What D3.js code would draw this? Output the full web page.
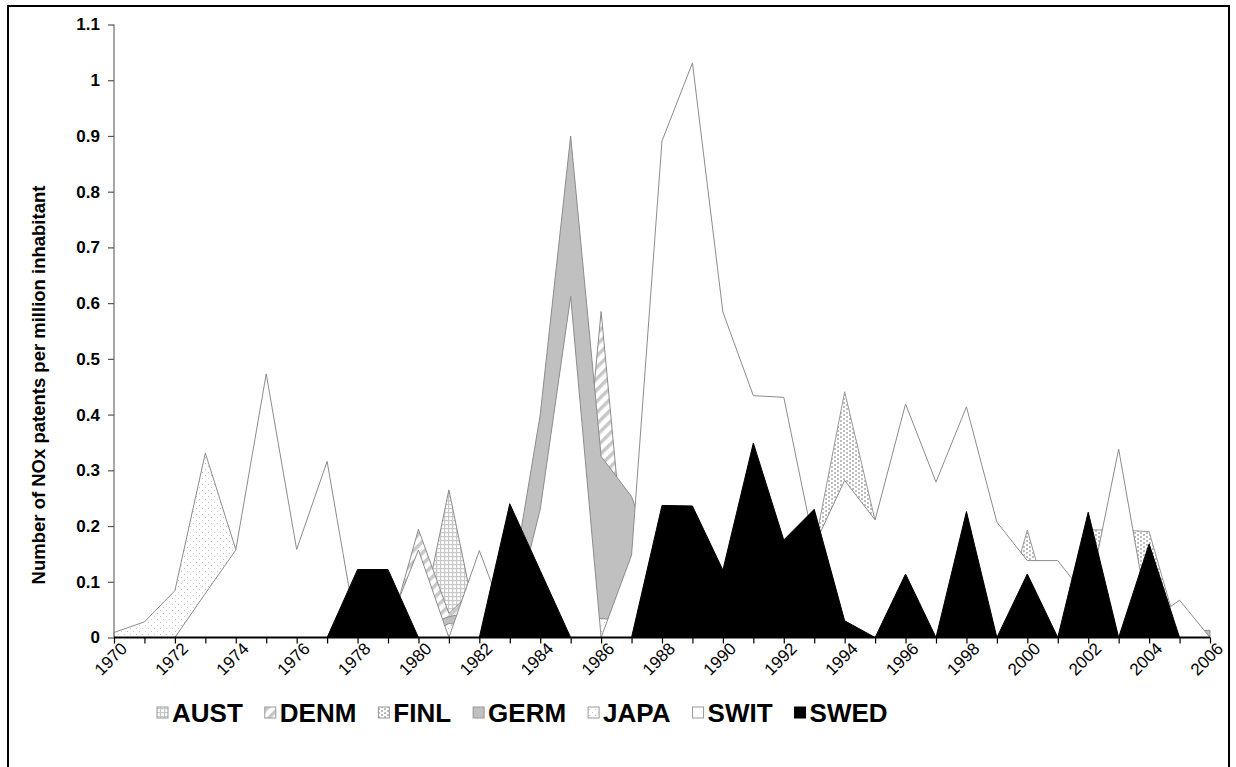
<!DOCTYPE html>
<html><head><meta charset="utf-8">
<script src="https://cdn.jsdelivr.net/npm/d3@7/dist/d3.min.js"></script>
<style>
body{margin:0;background:#fff}
svg{display:block}
text{font-family:Arial,"Liberation Sans",sans-serif}
</style>
</head><body>
<svg id="chart" width="1236" height="767"></svg>
<script>
// ---------- data ----------
const years = [1970,1971,1972,1973,1974,1975,1976,1977,1978,1979,1980,1981,1982,1983,1984,1985,1986,1987,1988,1989,1990,1991,1992,1993,1994,1995,1996,1997,1998,1999,2000,2001,2002,2003,2004,2005,2006];
const seriesNames = ["AUST","DENM","FINL","GERM","JAPA","SWIT","SWED"];
const AUST = [0,0,0,0,0, 0,0,0,0,0, 0,0.265,0,0,0, 0,0,0,0,0, 0,0,0,0,0, 0,0,0,0,0, 0,0,0,0,0, 0,0];
const DENM = [0,0,0,0,0, 0,0,0,0,0, 0.194,0.043,0.096,0,0, 0,0.585,0,0,0, 0,0,0,0,0, 0,0,0,0,0, 0,0,0,0,0, 0,0];
const FINL = [0,0,0,0,0, 0,0,0,0,0, 0,0,0,0,0, 0,0,0,0,0, 0,0,0,0.16,0.441, 0.21,0,0,0,0, 0.193,0,0.193,0.193,0.19, 0,0];
const GERM = [0,0,0,0,0, 0,0,0,0,0, 0.02,0.037,0.05,0.07,0.40, 0.90,0.325,0.253,0.1,0, 0,0,0,0,0, 0,0,0,0,0, 0,0,0,0,0, 0.01,0.013];
const JAPA = [0.009,0.028,0.084,0.331,0.158, 0.1,0,0,0,0, 0,0.025,0.02,0,0, 0.03,0.034,0.03,0,0, 0,0,0,0,0, 0,0,0,0,0, 0,0,0,0,0, 0,0];
const SWIT = [0,0,0,0.079,0.157, 0.473,0.158,0.316,0,0.02, 0.157,0,0.156,0.01,0.23, 0.612,0,0.148,0.891,1.031, 0.584,0.434,0.431,0.165,0.282, 0.211,0.419,0.279,0.414,0.207, 0.138,0.138,0.068,0.338,0.028, 0.067,0];
const SWED = [0,0,0,0,0, 0,0,0,0.122,0.122, 0,0,0,0.240,0.12, 0,0,0,0.237,0.236, 0.121,0.349,0.175,0.230,0.030, 0,0.114,0,0.226,0, 0.114,0,0.225,0,0.168, 0,0];
const yTicks = [0,0.1,0.2,0.3,0.4,0.5,0.6,0.7,0.8,0.9,1,1.1];
const xLabelYears = [1970,1972,1974,1976,1978,1980,1982,1984,1986,1988,1990,1992,1994,1996,1998,2000,2002,2004,2006];
const yTitle = "Number of NOx patents per million inhabitant";

const seriesValues = {AUST, DENM, FINL, GERM, JAPA, SWIT, SWED};

// ---------- layout ----------
const svg = d3.select("#chart");
const x = d3.scaleLinear().domain([1970, 2006]).range([114, 1210]);
const y = d3.scaleLinear().domain([0, 1.1]).range([637.5, 24.5]);

// frame
svg.append("rect").attr("x", 8).attr("y", 6).attr("width", 1221).attr("height", 780)
  .attr("fill", "#fff").attr("stroke", "#000").attr("stroke-width", 2);

// ---------- patterns ----------
const defs = svg.append("defs");
// AUST: small grid
const pA = defs.append("pattern").attr("id", "pAUST").attr("patternUnits", "userSpaceOnUse")
  .attr("width", 4).attr("height", 4);
pA.append("rect").attr("width", 4).attr("height", 4).attr("fill", "#fff");
pA.append("rect").attr("x", 0).attr("y", 0).attr("width", 4).attr("height", 1.2).attr("fill", "#c8c8c8");
pA.append("rect").attr("x", 0).attr("y", 0).attr("width", 1.2).attr("height", 4).attr("fill", "#c8c8c8");
// DENM: wide upward diagonal
const pD = defs.append("pattern").attr("id", "pDENM").attr("patternUnits", "userSpaceOnUse")
  .attr("width", 8).attr("height", 8).attr("patternTransform", "rotate(45)");
pD.append("rect").attr("width", 8).attr("height", 8).attr("fill", "#fff");
pD.append("rect").attr("x", 0).attr("y", 0).attr("width", 3.5).attr("height", 8).attr("fill", "#c8c8c8");
// FINL: large dots
const pF = defs.append("pattern").attr("id", "pFINL").attr("patternUnits", "userSpaceOnUse")
  .attr("width", 6).attr("height", 4);
pF.append("rect").attr("width", 6).attr("height", 4).attr("fill", "#fff");
pF.append("rect").attr("x", 0).attr("y", 0).attr("width", 2).attr("height", 2).attr("fill", "#bdbdbd");
pF.append("rect").attr("x", 3).attr("y", 2).attr("width", 2).attr("height", 2).attr("fill", "#bdbdbd");
// JAPA: sparse small dots
const pJ = defs.append("pattern").attr("id", "pJAPA").attr("patternUnits", "userSpaceOnUse")
  .attr("width", 6).attr("height", 6);
pJ.append("rect").attr("width", 6).attr("height", 6).attr("fill", "#fff");
pJ.append("rect").attr("x", 1).attr("y", 1).attr("width", 1).attr("height", 1).attr("fill", "#c4c4c4");
pJ.append("rect").attr("x", 4).attr("y", 4).attr("width", 1).attr("height", 1).attr("fill", "#c4c4c4");

const fills = {AUST:"url(#pAUST)", DENM:"url(#pDENM)", FINL:"url(#pFINL)", GERM:"#c0c0c0",
               JAPA:"url(#pJAPA)", SWIT:"#ffffff", SWED:"#000000"};
const strokes = {AUST:"#8c8c8c", DENM:"#8c8c8c", FINL:"#9a9a9a", GERM:"#8c8c8c",
                 JAPA:"#8c8c8c", SWIT:"#8c8c8c", SWED:"#000000"};

// ---------- areas (drawn in series order, later in front) ----------
const area = d3.area().x((d, i) => x(years[i])).y0(y(0)).y1(d => y(d));
const g = svg.append("g");
seriesNames.forEach(name => {
  g.append("path").datum(seriesValues[name])
    .attr("d", area)
    .attr("fill", fills[name])
    .attr("stroke", strokes[name])
    .attr("stroke-width", 1)
    .attr("stroke-linejoin", "miter");
});

// ---------- axes ----------
const yAxis = svg.append("g").attr("transform", "translate(114,0)")
  .call(d3.axisLeft(y).tickValues(yTicks).tickSize(6).tickPadding(8).tickFormat(d3.format("~g")));
yAxis.select(".domain").attr("stroke", "#777").attr("stroke-width", 1.3).attr("d", `M0,${y(1.1)}V${y(0)}`);
yAxis.selectAll(".tick line").attr("stroke", "#555").attr("stroke-width", 1.2);
yAxis.selectAll(".tick text").attr("font-size", 17).attr("font-weight", "bold").attr("fill", "#000")
  .attr("font-family", "Arial, 'Liberation Sans', sans-serif");

const xAxis = svg.append("g").attr("transform", `translate(0,${y(0)})`)
  .call(d3.axisBottom(x).tickValues(years).tickSize(6).tickFormat(""));
xAxis.select(".domain").attr("stroke", "#000").attr("stroke-width", 2).attr("d", `M${x(1970)},0H${x(2006)}`);
xAxis.selectAll(".tick line").attr("stroke", "#000").attr("stroke-width", 1.2);

// x labels rotated
svg.append("g").selectAll("text").data(xLabelYears).join("text")
  .attr("transform", d => `translate(${x(d) + 10},${y(0) + 8}) rotate(-45)`)
  .attr("text-anchor", "end")
  .attr("dy", "0.35em")
  .attr("font-size", 17)
  .attr("fill", "#000")
  .text(d => d);

// y title
svg.append("text")
  .attr("transform", "translate(45,385) rotate(-90)")
  .attr("text-anchor", "middle")
  .attr("font-size", 18.5)
  .attr("font-weight", "bold")
  .attr("fill", "#000")
  .text(yTitle);

// ---------- legend ----------
const leg = svg.append("g");
let lx = 157;
const gap = 22;
seriesNames.forEach(name => {
  leg.append("rect").attr("x", lx).attr("y", 707).attr("width", 11).attr("height", 11)
    .attr("fill", fills[name]).attr("stroke", name === "SWED" ? "#000" : "#999").attr("stroke-width", 1);
  const t = leg.append("text").attr("x", lx + 15).attr("y", 722)
    .attr("font-size", 26).attr("font-weight", "bold").attr("fill", "#000").text(name);
  lx += 15 + t.node().getComputedTextLength() + gap;
});
</script>
</body></html>
